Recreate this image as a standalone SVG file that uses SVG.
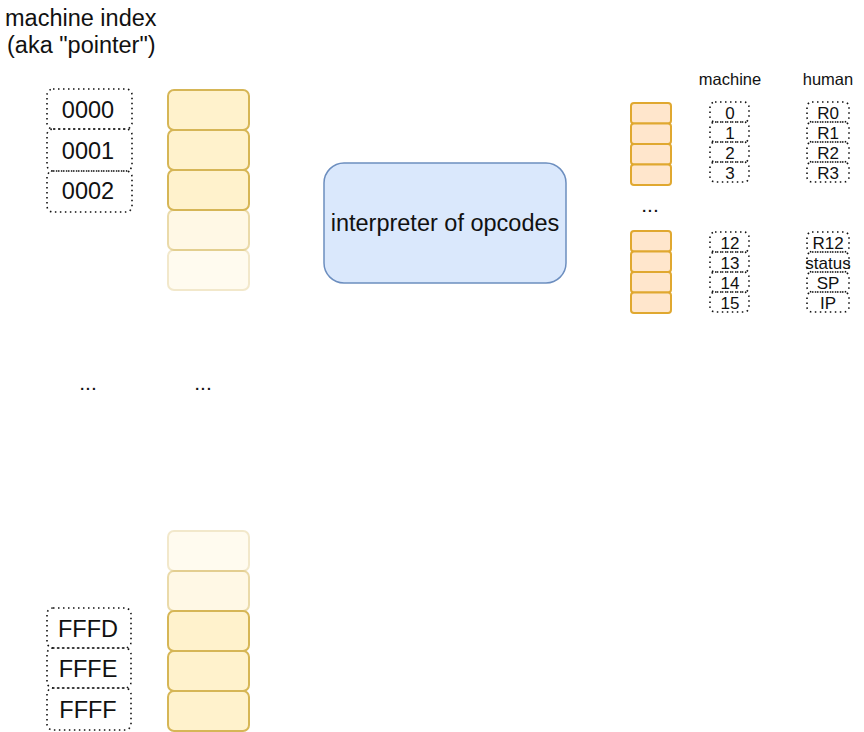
<svg xmlns="http://www.w3.org/2000/svg" width="864" height="732" viewBox="0 0 864 732">
<style>
text{font-family:"Liberation Sans",Arial,sans-serif;fill:#111}
.mem{fill:#fff2cc;stroke:#d6b656;stroke-width:2}
.reg{fill:#ffe6cc;stroke:#e0a830;stroke-width:2}
.dot{fill:none;stroke:#111;stroke-width:1.6;stroke-dasharray:1.5 3.5}
.addr{font-size:23.5px;text-anchor:middle}
.rl{font-size:17px;text-anchor:middle}
.hd{font-size:16.5px;text-anchor:middle}
.el{font-size:21px;text-anchor:middle;fill:#111}
</style>
<rect width="864" height="732" fill="#fff"/>
<g id="title">
<text x="5" y="26" font-size="23.5">machine index</text>
<text x="7" y="53" font-size="23.5">(aka "pointer")</text>
</g>
<g id="memory-top">
<rect class="mem" x="168" y="90" width="81" height="40" rx="6"/>
<rect class="mem" x="168" y="130" width="81" height="40" rx="6"/>
<rect class="mem" x="168" y="170" width="81" height="40" rx="6"/>
<rect class="mem" x="168" y="210" width="81" height="40" rx="6" opacity="0.5"/>
<rect class="mem" x="168" y="250" width="81" height="40" rx="6" opacity="0.3"/>
</g>
<g id="memory-bottom">
<rect class="mem" x="168" y="531" width="81" height="40" rx="6" opacity="0.3"/>
<rect class="mem" x="168" y="571" width="81" height="40" rx="6" opacity="0.5"/>
<rect class="mem" x="168" y="611" width="81" height="40" rx="6"/>
<rect class="mem" x="168" y="651" width="81" height="40" rx="6"/>
<rect class="mem" x="168" y="691" width="81" height="40" rx="6"/>
</g>
<g id="addr-top">
<rect class="dot" x="47" y="89" width="85" height="40" rx="6"/>
<text class="addr" x="88" y="118">0000</text>
<rect class="dot" x="47" y="129" width="85" height="42" rx="6"/>
<text class="addr" x="88" y="159">0001</text>
<rect class="dot" x="47" y="171" width="85" height="41" rx="6"/>
<text class="addr" x="88" y="199">0002</text>
</g>
<g id="addr-bottom">
<rect class="dot" x="47" y="608" width="84" height="40" rx="6"/>
<text class="addr" x="88" y="637">FFFD</text>
<rect class="dot" x="47" y="648" width="84" height="40" rx="6"/>
<text class="addr" x="88" y="677">FFFE</text>
<rect class="dot" x="47" y="688" width="84" height="42" rx="6"/>
<text class="addr" x="88" y="718">FFFF</text>
</g>
<g id="ellipses">
<text class="el" x="88" y="390">...</text>
<text class="el" x="203" y="390">...</text>
<text class="el" x="650" y="212">...</text>
</g>
<g id="interpreter">
<rect x="324" y="163" width="242" height="120" rx="20" fill="#dae8fc" stroke="#6c8ebf" stroke-width="1.5"/>
<text x="445" y="231" font-size="23.5" text-anchor="middle">interpreter of opcodes</text>
</g>
<g id="registers-top">
<rect class="reg" x="631" y="103" width="40" height="20.5" rx="3"/>
<rect class="reg" x="631" y="123.5" width="40" height="20.5" rx="3"/>
<rect class="reg" x="631" y="144" width="40" height="20.5" rx="3"/>
<rect class="reg" x="631" y="164.5" width="40" height="20.5" rx="3"/>
</g>
<g id="registers-bottom">
<rect class="reg" x="631" y="231" width="40" height="20.5" rx="3"/>
<rect class="reg" x="631" y="251.5" width="40" height="20.5" rx="3"/>
<rect class="reg" x="631" y="272" width="40" height="20.5" rx="3"/>
<rect class="reg" x="631" y="292.5" width="40" height="20.5" rx="3"/>
</g>
<g id="headers">
<text class="hd" x="730" y="85">machine</text>
<text class="hd" x="828" y="85">human</text>
</g>
<g id="machine-top">
<rect class="dot" x="710" y="102" width="39" height="20" rx="5"/><text class="rl" x="730" y="119">0</text>
<rect class="dot" x="710" y="122" width="39" height="20" rx="5"/><text class="rl" x="730" y="139">1</text>
<rect class="dot" x="710" y="142" width="39" height="20" rx="5"/><text class="rl" x="730" y="159">2</text>
<rect class="dot" x="710" y="162" width="39" height="20" rx="5"/><text class="rl" x="730" y="179">3</text>
</g>
<g id="human-top">
<rect class="dot" x="807" y="102" width="42" height="20" rx="5"/><text class="rl" x="828" y="119">R0</text>
<rect class="dot" x="807" y="122" width="42" height="20" rx="5"/><text class="rl" x="828" y="139">R1</text>
<rect class="dot" x="807" y="142" width="42" height="20" rx="5"/><text class="rl" x="828" y="159">R2</text>
<rect class="dot" x="807" y="162" width="42" height="20" rx="5"/><text class="rl" x="828" y="179">R3</text>
</g>
<g id="machine-bottom">
<rect class="dot" x="710" y="232" width="39" height="20" rx="5"/><text class="rl" x="730" y="249">12</text>
<rect class="dot" x="710" y="252" width="39" height="20" rx="5"/><text class="rl" x="730" y="269">13</text>
<rect class="dot" x="710" y="272" width="39" height="20" rx="5"/><text class="rl" x="730" y="289">14</text>
<rect class="dot" x="710" y="292" width="39" height="20" rx="5"/><text class="rl" x="730" y="309">15</text>
</g>
<g id="human-bottom">
<rect class="dot" x="807" y="232" width="42" height="20" rx="5"/><text class="rl" x="828" y="249">R12</text>
<rect class="dot" x="807" y="252" width="42" height="20" rx="5"/><text class="rl" x="828" y="269">status</text>
<rect class="dot" x="807" y="272" width="42" height="20" rx="5"/><text class="rl" x="828" y="289">SP</text>
<rect class="dot" x="807" y="292" width="42" height="20" rx="5"/><text class="rl" x="828" y="309">IP</text>
</g>
<g id="connectors"></g>
</svg>
